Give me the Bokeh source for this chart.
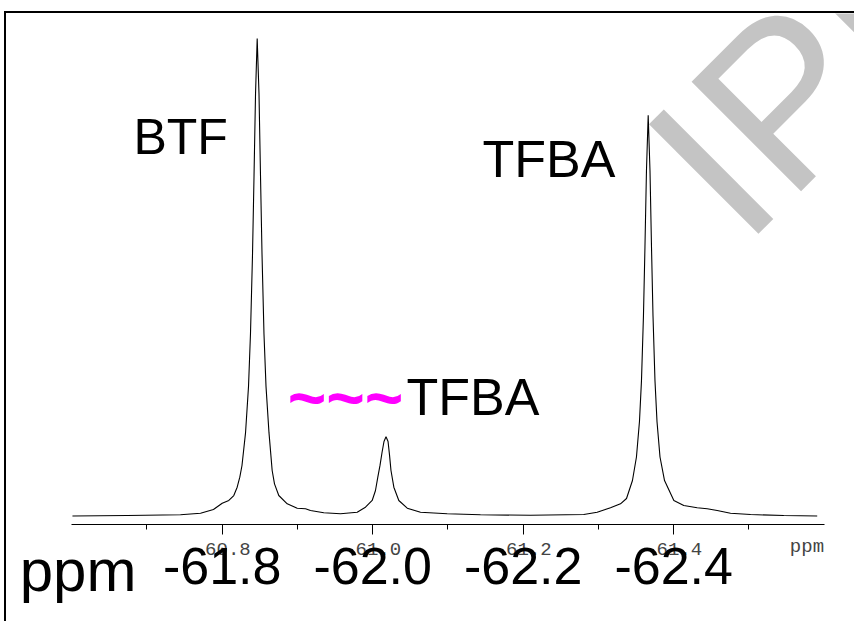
from bokeh.plotting import figure
from bokeh.models import Range1d, FixedTicker, Label, LinearAxis
from bokeh.embed import file_html
from bokeh.resources import INLINE

# ---- spectrum (ppm, intensity in arbitrary units) ----
ppm = [-60.601, -60.674, -60.7446, -60.7712, -60.7884, -60.8000, -60.8088, -60.8154,
       -60.8199, -60.8234, -60.8263, -60.8310, -60.8350, -60.8376, -60.8403, -60.8423,
       -60.8443, -60.8465, -60.8489, -60.8509, -60.8529, -60.8555, -60.8582, -60.8622,
       -60.8664, -60.8695, -60.8752, -60.8864, -60.8997, -60.9107, -60.9173, -60.9350,
       -60.9572, -60.9794, -60.9904, -60.9993, -61.0037, -61.0068, -61.0097, -61.0124,
       -61.0150, -61.0177, -61.0204, -61.0224, -61.0243, -61.0281, -61.0347, -61.0459,
       -61.0635, -61.0990, -61.1433, -61.2097, -61.2805, -61.2983, -61.3160, -61.3293,
       -61.3373, -61.3452, -61.3505, -61.3545, -61.3572, -61.3598, -61.3618, -61.3638,
       -61.3661, -61.3685, -61.3705, -61.3725, -61.3751, -61.3778, -61.3818, -61.3878,
       -61.4002, -61.4134, -61.4312, -61.4445, -61.4578, -61.4755, -61.5021, -61.5463,
       -61.5907]
intensity = [0.0, 0.1, 0.25, 0.59, 1.36, 2.68, 3.25, 4.29,
             6.03, 8.13, 10.58, 17.4, 27.2, 38.2, 54.9, 71.3,
             88.5, 100.0, 88.5, 71.3, 54.9, 38.2, 27.2, 17.4,
             9.53, 6.74, 4.29, 2.55, 1.63, 1.51, 1.15, 0.67,
             0.46, 0.80, 1.84, 3.25, 5.34, 8.13, 10.6, 13.3,
             15.6, 16.6, 15.6, 12.7, 9.53, 6.03, 3.25, 1.63,
             0.80, 0.46, 0.25, 0.15, 0.31, 0.80, 1.72, 2.55,
             3.66, 7.43, 12.36, 19.8, 28.4, 41.9, 56.3, 72.3,
             83.9, 72.3, 56.3, 41.9, 28.4, 19.8, 12.36, 7.43,
             3.25, 2.20, 1.72, 1.51, 1.15, 0.59, 0.31, 0.10,
             0.0]

tick_values = [-60.8, -61.0, -61.2, -61.4]
minor_tick_values = [-60.7, -60.9, -61.1, -61.3, -61.5]
tick_labels = ["-60.8", "-61.0", "-61.2", "-61.4"]
referenced_labels = ["-61.8", "-62.0", "-62.2", "-62.4"]
axis_unit = "ppm"
unit_position_small = [-61.5771]
unit_position_big = [-60.6084]
peak_names = ["BTF", "TFBA", "TFBA"]
watermark_text = "IPR"

p = figure(width=850, height=610, output_backend="svg", toolbar_location=None,
           x_range=Range1d(-60.51336, -61.64292), y_range=Range1d(-1.78, 105.236),
           x_axis_location="below", y_axis_location=None,
           min_border_left=0, min_border_right=0, min_border_top=0, min_border_bottom=99)
p.styles = {"margin-left": "4px", "margin-top": "11px",
            "border-left": "2px solid black", "border-top": "2px solid black"}
p.outline_line_color = None
p.grid.visible = False
p.background_fill_color = "white"
p.border_fill_color = "white"

ax = p.xaxis[0]
ax.ticker = FixedTicker(ticks=tick_values, minor_ticks=minor_tick_values)
ax.major_label_overrides = {v: s for v, s in zip(tick_values, tick_labels)}
ax.bounds = (-61.6, -60.6)
ax.axis_line_color = "black"
ax.axis_line_width = 1
ax.major_tick_out = 10
ax.major_tick_in = 0
ax.minor_tick_out = 5
ax.minor_tick_in = 0
ax.major_tick_line_color = "black"
ax.minor_tick_line_color = "black"
ax.major_label_text_font = "Liberation Mono"
ax.major_label_text_font_size = "19px"
ax.major_label_text_color = "#444444"
ax.major_label_standoff = 8


def label_axis(ticks, labels, font, size, color, standoff):
    return LinearAxis(ticker=FixedTicker(ticks=ticks, minor_ticks=[]),
                      major_label_overrides={v: s for v, s in zip(ticks, labels)},
                      axis_line_color=None, major_tick_line_color=None,
                      minor_tick_line_color=None, major_tick_in=0, major_tick_out=0,
                      minor_tick_in=0, minor_tick_out=0, major_label_standoff=standoff,
                      major_label_text_font=font, major_label_text_font_size=size,
                      major_label_text_color=color)


# small unit label at the right end of the axis
p.add_layout(label_axis(unit_position_small, [axis_unit], "Liberation Mono", "19px",
                        "#444444", -22), "below")
# referenced (second) scale labels under the axis
p.add_layout(label_axis(tick_values, referenced_labels, "Liberation Sans", "52px",
                        "black", -13), "below")
# big unit label at the left
p.add_layout(label_axis(unit_position_big, [axis_unit], "Liberation Sans", "60px",
                        "black", -50), "below")

# watermark
p.add_layout(Label(x=-61.4197, y=67.57, text=watermark_text, angle=45, angle_units="deg",
                   text_font="Liberation Sans", text_font_size="225px",
                   text_baseline="alphabetic", text_color="#c4c4c4", level="underlay"))

p.line(ppm, intensity, line_color="black", line_width=1.1)

font = "Liberation Sans"
p.add_layout(Label(x=-60.6821, y=79.27, text=peak_names[0], text_font=font,
                   text_baseline="alphabetic", text_font_size="50px", text_color="black"))
p.add_layout(Label(x=-61.1459, y=74.67, text=peak_names[1], text_font=font,
                   text_baseline="alphabetic", text_font_size="52px", text_color="black"))
p.add_layout(Label(x=-61.0449, y=25.0, text=peak_names[2], text_font=font,
                   text_baseline="alphabetic", text_font_size="52px", text_color="black"))
p.add_layout(Label(x=-60.9639, y=24.61, text="~~~", text_font=font, text_align="center",
                   text_baseline="alphabetic", text_font_style="bold",
                   text_font_size="66px", text_color="#ff00ff"))

open("out.html", "w").write(file_html(p, INLINE))
